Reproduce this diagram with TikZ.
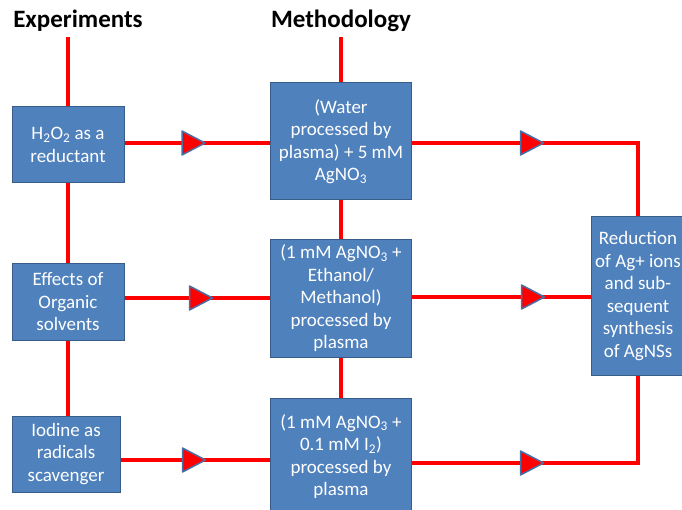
\documentclass[tikz,border=0pt]{standalone}
\usepackage{fontspec}
\setmainfont{Carlito}
\definecolor{boxfill}{HTML}{4F81BD}
\definecolor{boxline}{HTML}{385D8A}
\definecolor{triline}{HTML}{4A6FA5}
\begin{document}
\begin{tikzpicture}[x=1pt,y=-1pt,
  box/.style={draw=boxline, line width=1pt, fill=boxfill, text=white, align=center,
    font=\fontsize{19}{22.5}\selectfont, inner sep=0pt},
  link/.style={red, line width=4pt},
  title/.style={font=\fontsize{25}{30}\selectfont\bfseries},
  tri/.pic={\draw[fill=red, draw=triline, line width=1.5pt, line join=round]
    (-11.5,-12) -- (11.5,0) -- (-11.5,12) -- cycle;}]
\useasboundingbox (0,0) rectangle (682,510);
\clip (0,0) rectangle (682,510);
% titles
\node[title] (exp) at (78,21) {Experiments};
\node[title] (meth) at (341,21) {Methodology};
\coordinate (ctop1) at (68,37);
\coordinate (ctop2) at (341,37);
% experiment boxes
\node[box, minimum width=112pt, minimum height=76pt] (e1) at (68,145)
  {H\textsubscript{2}O\textsubscript{2} as a\\reductant};
\node[box, minimum width=112pt, minimum height=76pt] (e2) at (68,302)
  {Effects of\\Organic\\solvents};
\node[box, minimum width=108pt, minimum height=76pt] (e3) at (66,454)
  {Iodine as\\radicals\\scavenger};
% methodology boxes
\node[box, minimum width=141pt, minimum height=117pt] (m1) at (341,141.5)
  {(Water\\processed by\\plasma) + 5 mM\\AgNO\textsubscript{3}};
\node[box, minimum width=141pt, minimum height=117pt] (m2) at (341,298.5)
  {(1 mM AgNO\textsubscript{3} +\\Ethanol/\\Methanol)\\processed by\\plasma};
\node[box, minimum width=141pt, minimum height=117pt] (m3) at (341,456.5)
  {(1 mM AgNO\textsubscript{3} +\\0.1 mM I\textsubscript{2})\\processed by\\plasma};
% result box
\node[box, minimum width=94pt, minimum height=158pt] (r) at (638,296)
  {Reduction\\of Ag+ ions\\and sub-\\sequent\\synthesis\\of AgNSs};
% vertical links
\draw[link] (ctop1) -- (e1.north);
\draw[link] (e1.south) -- (e2.north);
\draw[link] (e2.south) -- (e2.south |- e3.north);
\draw[link] (ctop2) -- (m1.north);
\draw[link] (m1.south) -- (m2.north);
\draw[link] (m2.south) -- (m3.north);
% horizontal links
\draw[link] (e1.east |- 0,143) -- (m1.west |- 0,143);
\draw[link] (e2.east |- 0,298) -- (m2.west |- 0,298);
\draw[link] (e3.east |- 0,460) -- (m3.west |- 0,460);
\draw[link] (m1.east |- 0,143) -- (638,143) -- (r.north);
\draw[link] (m2.east |- 0,297) -- (r.west |- 0,297);
\draw[link] (m3.east |- 0,463) -- (638,463) -- (r.south);
% arrow triangles
\pic at (193.5,143) {tri};
\pic at (201,298) {tri};
\pic at (194,460) {tri};
\pic at (532,143) {tri};
\pic at (533,297) {tri};
\pic at (532,463) {tri};
\end{tikzpicture}
\end{document}
